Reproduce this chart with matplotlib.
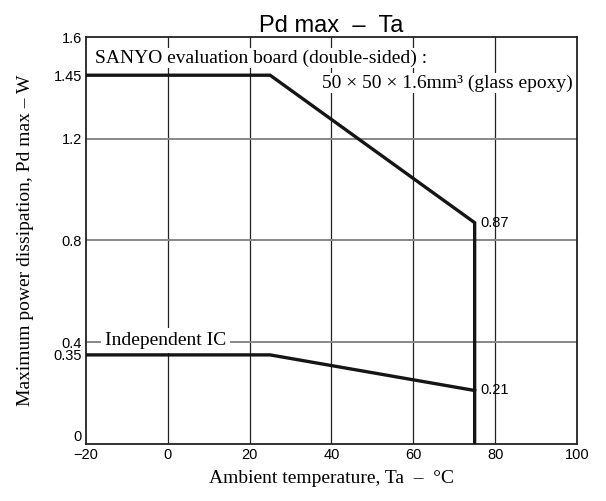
import matplotlib
matplotlib.use("Agg")
import matplotlib.pyplot as plt

# Derating curves (Ta in degC, Pd in W)
board_ta = [-20, 25, 75, 75]
board_pd = [1.45, 1.45, 0.87, 0.0]
ic_ta = [-20, 25, 75]
ic_pd = [0.35, 0.35, 0.21]

x_ticks = [-20, 0, 20, 40, 60, 80, 100]
x_tick_labels = ["\u221220", "0", "20", "40", "60", "80", "100"]
y_ticks = [0, 0.35, 0.4, 0.8, 1.2, 1.45, 1.6]
y_tick_labels = ["0", "0.35", "0.4", "0.8", "1.2", "1.45", "1.6"]
y_grid = [0.4, 0.8, 1.2]
x_grid = [0, 20, 40, 60, 80]

SANS = "Liberation Sans"
SERIF = "Liberation Serif"

fig = plt.figure(figsize=(6.06, 5.01), dpi=100)
ax = fig.add_axes([0.142, 0.114, 0.810, 0.812])

ax.set_xlim(-20, 100)
ax.set_ylim(0, 1.6)

# grid
for gx in x_grid:
    ax.axvline(gx, color="#222222", linewidth=0.9, zorder=1)
for gy in y_grid:
    ax.axhline(gy, color="#888888", linewidth=1.4, zorder=1)

ax.plot(board_ta, board_pd, color="#151515", linewidth=2.4,
        solid_joinstyle="miter", zorder=3)
ax.plot(ic_ta, ic_pd, color="#151515", linewidth=2.4,
        solid_joinstyle="miter", zorder=3)

ax.text(76.3, board_pd[2], "0.87", fontsize=10.5, family=SANS,
        va="center", ha="left", zorder=4)
ax.text(76.3, ic_pd[2], "0.21", fontsize=10.5, family=SANS,
        va="center", ha="left", zorder=4)

ax.text(-17.8, 1.50, "SANYO evaluation board (double-sided) :", fontsize=14,
        family=SERIF, va="baseline", ha="left", zorder=4,
        bbox=dict(facecolor="white", edgecolor="none", pad=1))
ax.text(99.0, 1.40, "50 × 50 × 1.6mm³ (glass epoxy)", fontsize=14,
        family=SERIF, va="baseline", ha="right", zorder=4,
        bbox=dict(facecolor="white", edgecolor="none", pad=1))
ax.text(-15.4, 0.389, "Independent IC", fontsize=14, family=SERIF,
        va="baseline", ha="left", zorder=4,
        bbox=dict(facecolor="white", edgecolor="none", pad=3))

ax.set_xticks(x_ticks)
ax.set_xticklabels(x_tick_labels, family=SANS, fontsize=10.5)
ax.set_yticks(y_ticks)
ax.set_yticklabels(y_tick_labels, family=SANS, fontsize=10.5)
ax.tick_params(length=0, pad=3)
# lift the "0" label slightly like the original
ax.get_yticklabels()[0].set_verticalalignment("bottom")

for sp in ax.spines.values():
    sp.set_linewidth(1.3)
    sp.set_color("#222222")

ax.set_title("Pd max  \u2013  Ta", fontsize=17, family=SANS, pad=3)
ax.set_xlabel("Ambient temperature, Ta  \u2013  °C", fontsize=14,
              family=SERIF, labelpad=6)
ax.set_ylabel("Maximum power dissipation, Pd max \u2013 W", fontsize=14,
              family=SERIF, labelpad=14)

fig.savefig("out.png", dpi=100)
